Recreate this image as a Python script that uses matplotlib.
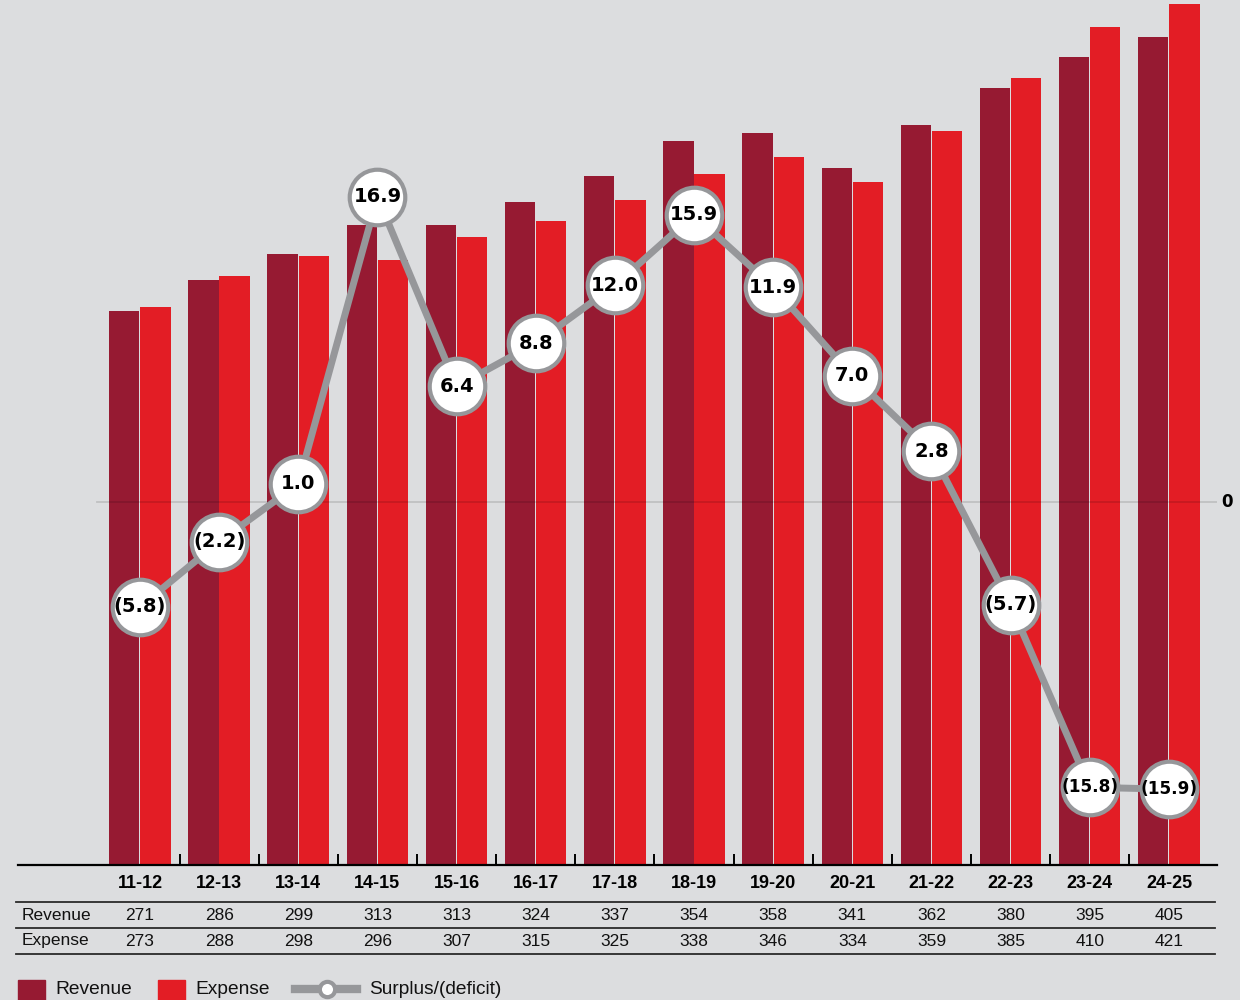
import matplotlib
matplotlib.use("Agg")
import matplotlib.pyplot as plt
import matplotlib.transforms as mtransforms
from matplotlib.patches import Rectangle
from matplotlib.lines import Line2D

# Fiscal years and financials (revenue / expense, surplus or deficit)
years = ["11-12", "12-13", "13-14", "14-15", "15-16", "16-17", "17-18",
         "18-19", "19-20", "20-21", "21-22", "22-23", "23-24", "24-25"]
revenue = [271, 286, 299, 313, 313, 324, 337, 354, 358, 341, 362, 380, 395, 405]
expense = [273, 288, 298, 296, 307, 315, 325, 338, 346, 334, 359, 385, 410, 421]
surplus = [-5.8, -2.2, 1.0, 16.9, 6.4, 8.8, 12.0, 15.9, 11.9, 7.0, 2.8, -5.7, -15.8, -15.9]

BG = "#DCDDDF"
REV_C = "#961A32"
EXP_C = "#E31D25"
LINE_C = "#96979A"

REG = "Liberation Sans"
BOLD_NUM = "DejaVu Sans"


def fmt(v):
    return f"({abs(v):.1f})" if v < 0 else f"{v:.1f}"


fig = plt.figure(figsize=(12.4, 10), dpi=100, facecolor=BG)
ax = fig.add_axes([18 / 1240, 0.135, (1217 - 18) / 1240, 0.865])
ax.set_facecolor(BG)

x = list(range(len(years)))
w = 0.383
ax.bar([i - 0.198 for i in x], revenue, width=w, color=REV_C, zorder=2)
ax.bar([i + 0.196 for i in x], expense, width=w, color=EXP_C, zorder=2)
ax.set_xlim(-1.541, 13.607)
ax.set_ylim(0, 423)

for side in ("left", "right", "top"):
    ax.spines[side].set_visible(False)
ax.spines["bottom"].set_color("black")
ax.spines["bottom"].set_linewidth(1.6)
ax.set_yticks([])
ax.set_xticks([i + 0.5 for i in range(len(years) - 1)])
ax.set_xticklabels([])
ax.tick_params(axis="x", direction="in", length=8, width=1.4, color="black")

# Surplus / deficit on its own scale
ax2 = ax.twinx()
ax2.set_ylim(-20.1, 27.8)
ax2.set_xlim(ax.get_xlim())
ax2.axis("off")
ax2.plot([-0.543, 13.607], [0, 0], color="black", alpha=0.13, lw=1.3, zorder=1)
ax2.plot(x, surplus, color=LINE_C, lw=5, zorder=3, solid_capstyle="butt")
ax2.plot(x, surplus, "o", ms=40, mfc="white", mec=LINE_C, mew=3, zorder=4)
for xi, v in zip(x, surplus):
    s = fmt(v)
    fs = 14 if len(s) <= 5 else 12.2
    ax2.text(xi, v, s, ha="center", va="center", fontsize=fs,
             fontweight="bold", family=BOLD_NUM, color="black", zorder=5)
fig.text(1227 / 1240, 1 - 502 / 1000, "0", ha="center", va="center",
         fontsize=12, fontweight="bold", family=BOLD_NUM)

# Data table under the bars
tr = mtransforms.blended_transform_factory(ax.transData, fig.transFigure)
for xi, yr, r, e in zip(x, years, revenue, expense):
    fig.text(xi, 1 - 884 / 1000, yr, transform=tr, ha="center", va="center",
             fontsize=13, fontweight="bold", family=REG)
    fig.text(xi, 1 - 915 / 1000, str(r), transform=tr, ha="center", va="center",
             fontsize=12.5, family=REG, color="#111111")
    fig.text(xi, 1 - 941 / 1000, str(e), transform=tr, ha="center", va="center",
             fontsize=12.5, family=REG, color="#111111")
fig.text(22 / 1240, 1 - 915 / 1000, "Revenue", ha="left", va="center",
         fontsize=12.5, family=REG, color="#111111")
fig.text(22 / 1240, 1 - 941 / 1000, "Expense", ha="left", va="center",
         fontsize=12.5, family=REG, color="#111111")
for yl in (902, 928, 954):
    fig.add_artist(Line2D([16 / 1240, 1215 / 1240], [1 - yl / 1000] * 2,
                          color="#2A2A2A", lw=1.3))

# Legend
fig.add_artist(Rectangle((18 / 1240, 0), 27 / 1240, 20 / 1000,
                         color=REV_C, transform=fig.transFigure))
fig.text(55 / 1240, 1 - 990 / 1000, "Revenue", ha="left", va="center",
         fontsize=13.8, family=REG, color="#111111")
fig.add_artist(Rectangle((158 / 1240, 0), 27 / 1240, 20 / 1000,
                         color=EXP_C, transform=fig.transFigure))
fig.text(195 / 1240, 1 - 990 / 1000, "Expense", ha="left", va="center",
         fontsize=13.8, family=REG, color="#111111")
fig.add_artist(Line2D([295 / 1240, 357 / 1240], [1 - 989 / 1000] * 2,
                      color=LINE_C, lw=6))
fig.add_artist(Line2D([327 / 1240], [1 - 989 / 1000], marker="o", ms=11,
                      mfc="white", mec=LINE_C, mew=3))
fig.text(369 / 1240, 1 - 990 / 1000, "Surplus/(deficit)", ha="left", va="center",
         fontsize=13.8, family=REG, color="#111111")

fig.savefig("out.png", dpi=100, facecolor=BG)
